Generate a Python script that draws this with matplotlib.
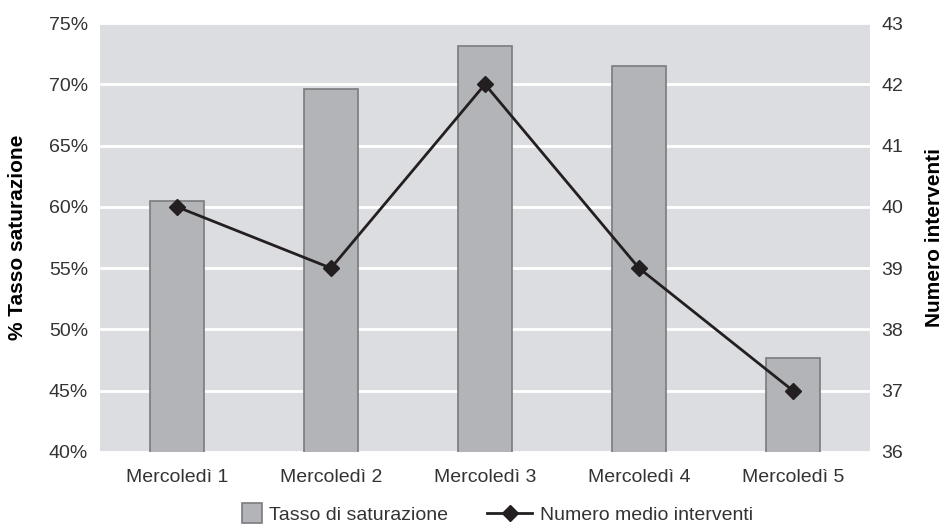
import matplotlib.pyplot as plt
import numpy as np
from matplotlib.patches import Rectangle
from matplotlib.legend_handler import HandlerPatch, update_from_first_child
from matplotlib.container import BarContainer

plt.rcParams['font.family'] = ['Liberation Sans', 'DejaVu Sans']

giorni = ["Mercoledì 1", "Mercoledì 2", "Mercoledì 3", "Mercoledì 4", "Mercoledì 5"]
saturazione = [60.5, 69.6, 73.1, 71.5, 47.7]   # %
interventi = [40, 39, 42, 39, 37]

sfondo = "#dcdde0"
grigio_barre = "#b3b4b8"
bordo_barre = "#7b7b7e"
nero = "#231f20"
testo = "#333333"


def quadrato(legend, orig_handle, xdescent, ydescent, width, height, fontsize):
    # piccolo quadrato allineato a destra nello spazio della legenda
    s = height * 1.45
    return Rectangle((-xdescent + width - s, -ydescent + (height - s) / 2), s, s)


fig = plt.figure(figsize=(9.45, 5.28), dpi=100)
ax = fig.add_axes([0.1058, 0.144, 0.8148, 0.8124])
ax.set_facecolor(sfondo)

x = np.arange(len(giorni))
barre = ax.bar(x, saturazione, width=0.35, color=grigio_barre, edgecolor=bordo_barre,
               linewidth=1.2, zorder=3)
ax.set_ylim(40, 75)
ax.set_yticks(np.arange(40, 76, 5))
ax.set_yticklabels([f"{v}%" for v in range(40, 76, 5)])
ax.set_xlim(-0.5, len(giorni) - 0.5)
ax.set_xticks(x)
ax.set_xticklabels(giorni)
ax.grid(axis='y', color='white', linewidth=2, zorder=1)
ax.set_axisbelow(True)
for s in ax.spines.values():
    s.set_visible(False)
ax.tick_params(length=0, labelsize=14, colors=testo, pad=8.5)
ax.tick_params(axis='x', pad=12)

ax2 = ax.twinx()
linea, = ax2.plot(x, interventi, color=nero, linewidth=2, marker='D', markersize=8,
                  zorder=5)
ax2.set_ylim(36, 43)
ax2.set_yticks(range(36, 44))
for s in ax2.spines.values():
    s.set_visible(False)
ax2.tick_params(length=0, labelsize=14, colors=testo, pad=8)

# titoli degli assi verticali
fig.text(0.018, 0.55, "% Tasso saturazione", rotation=90, ha='center', va='center',
         fontsize=15, fontweight='bold', color='black')
fig.text(0.989, 0.55, "Numero interventi", rotation=90, ha='center', va='center',
         fontsize=15, fontweight='bold', color='black')

fig.legend([barre, linea], ["Tasso di saturazione", "Numero medio interventi"],
           loc='center', bbox_to_anchor=(0.513, 0.0246), ncol=2, frameon=False,
           fontsize=14, handlelength=2.3, columnspacing=2.0, handletextpad=0.4,
           labelcolor=testo,
           handler_map={BarContainer: HandlerPatch(patch_func=quadrato,
                                                   update_func=update_from_first_child)})

fig.savefig("out.png", dpi=100)
